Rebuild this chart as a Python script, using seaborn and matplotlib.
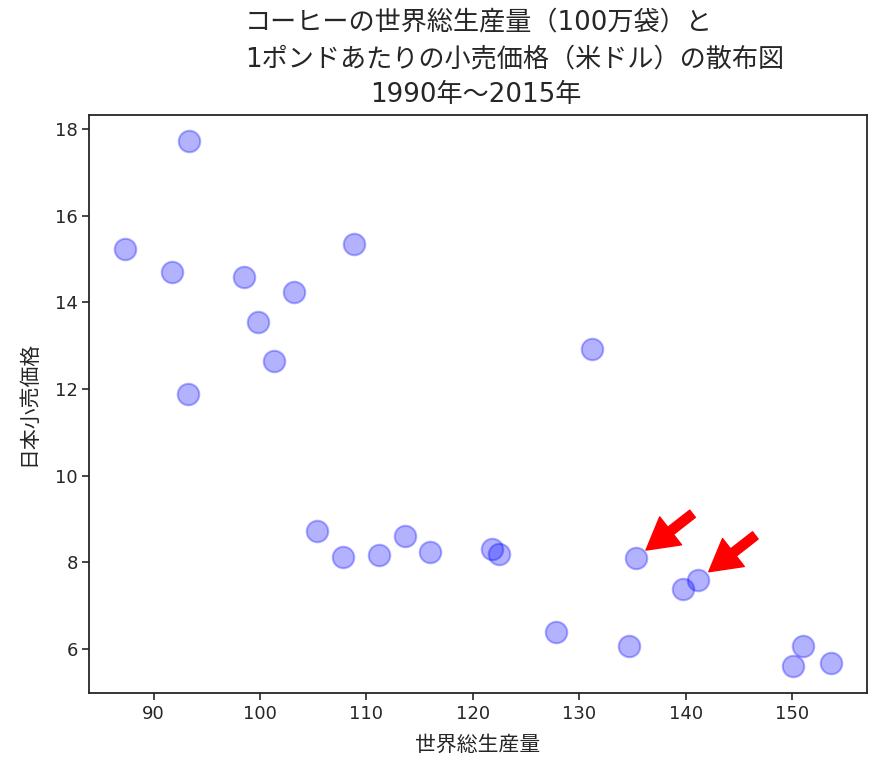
import numpy as np
import pandas as pd
import matplotlib
matplotlib.use("Agg")
import matplotlib.pyplot as plt
import seaborn as sns

# 世界総生産量（100万袋）と日本小売価格（米ドル/ポンド）
production = [93.3, 87.3, 91.7, 98.5, 103.2, 99.8, 101.3, 93.2, 108.8, 131.2,
              105.4, 107.8, 111.2, 113.6, 116.0, 121.8, 122.5, 127.8,
              135.3, 139.8, 141.2, 134.7, 151.0, 150.1, 153.7]
price = [17.73, 15.23, 14.70, 14.59, 14.23, 13.55, 12.64, 11.88, 15.34, 12.92,
         8.73, 8.12, 8.16, 8.60, 8.23, 8.31, 8.19, 6.39,
         8.09, 7.37, 7.59, 6.07, 6.07, 5.59, 5.67]

# 矢印で示す点（インデックス）
highlight = [18, 20]

title_lines = ["コーヒーの世界総生産量（100万袋）と",
               "1ポンドあたりの小売価格（米ドル）の散布図",
               "1990年～2015年"]

sns.set_style("ticks")
# 数字は DejaVu Sans、日本語は Noto Sans CJK JP
plt.rcParams['font.family'] = ['DejaVu Sans', 'Noto Sans CJK JP']

df = pd.DataFrame({"production": production, "price": price})

fig = plt.figure(figsize=(8.8, 7.75), dpi=100)
ax = fig.add_axes([0.1017, 0.1062, 0.8832, 0.7458])

sns.scatterplot(data=df, x="production", y="price", ax=ax,
                s=240, color="blue", alpha=0.3, edgecolor="blue", linewidth=1.5)

ax.set_xticks([90, 100, 110, 120, 130, 140, 150])
ax.set_yticks([6, 8, 10, 12, 14, 16, 18])
ax.tick_params(labelsize=13, length=5, width=1.2, colors="#262626")
for s in ax.spines.values():
    s.set_linewidth(1.3)
    s.set_color("#262626")

ax.set_xlabel("世界総生産量", fontsize=15, labelpad=9)
ax.set_ylabel("日本小売価格", fontsize=15, labelpad=12)

# 赤い矢印
for i in highlight:
    ax.annotate("", xy=(production[i], price[i]),
                xytext=(41, 32), textcoords="offset points",
                arrowprops=dict(arrowstyle="simple,head_length=0.75,head_width=0.85,tail_width=0.22",
                                mutation_scale=30, color="red",
                                shrinkA=0, shrinkB=9.5))

# タイトル（3行）
fig.text(245 / 880, 1 - 22 / 775, title_lines[0], ha="left", va="center", fontsize=18.8)
fig.text(245 / 880, 1 - 59 / 775, title_lines[1], ha="left", va="center", fontsize=18.8)
fig.text(476 / 880, 1 - 95 / 775, title_lines[2], ha="center", va="center", fontsize=18.8)

fig.savefig("out.png", dpi=100)
